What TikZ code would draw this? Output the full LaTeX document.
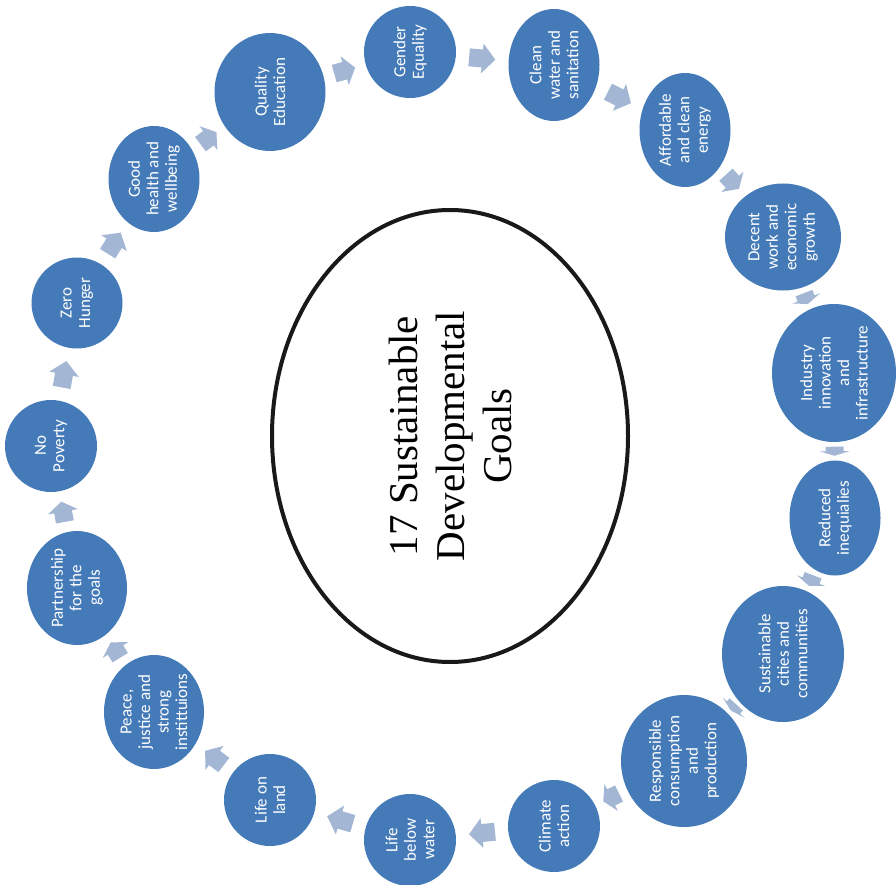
\documentclass[tikz,border=0pt]{standalone}
\usepackage{fontspec}
\setmainfont{Liberation Serif}
\newfontfamily\goalfont{Carlito}
\usetikzlibrary{shapes.geometric,decorations.markings}
\definecolor{goalblue}{RGB}{69,122,185}
\definecolor{flowblue}{RGB}{163,183,212}
\tikzset{
    goal/.style={ellipse, fill=goalblue, text=white, inner sep=0pt, align=center,
        rotate=90, font=\goalfont\fontsize{17}{18.5}\selectfont},
    hub/.style={ellipse, draw=black!90, line width=4pt, inner sep=0pt, align=center,
        rotate=90, font=\fontsize{41}{47}\selectfont},
    flow/.style={decoration={markings, mark=at position 0.5 with {
        \fill[flowblue] ({-0.25*\pgfdecoratedpathlength},-9pt) -- (0pt,-9pt) -- (0pt,-15pt)
            -- ({0.25*\pgfdecoratedpathlength},0pt) -- (0pt,15pt) -- (0pt,9pt)
            -- ({-0.25*\pgfdecoratedpathlength},9pt) -- cycle;}}, decorate}
}
\begin{document}
\begin{tikzpicture}[x=1pt,y=-1pt]
    \useasboundingbox (0,0) rectangle (896,885);
    % centre
    \node[hub, minimum width=452pt, minimum height=356pt] (hub) at (450,436)
        {17 Sustainable\\Developmental\\Goals};
    % the ring of goals
    \node[goal, minimum width=92pt, minimum height=92pt] (g1) at (51,446) {No\\Poverty};
    \node[goal, minimum width=91pt, minimum height=91pt] (g2) at (77,303) {Zero\\Hunger};
    \node[goal, minimum width=106pt, minimum height=91pt] (g3) at (154,179) {Good\\health and\\wellbeing};
    \node[goal, minimum width=118pt, minimum height=111pt] (g4) at (270,92) {Quality\\Education};
    \node[goal, minimum width=92pt, minimum height=92pt] (g5) at (410,52) {Gender\\Equality};
    \node[goal, minimum width=112pt, minimum height=91pt] (g6) at (554,65) {Clean\\water and\\sanitation};
    \node[goal, minimum width=114pt, minimum height=91pt] (g7) at (685,130) {Affordable\\and clean\\energy};
    \node[goal, minimum width=107pt, minimum height=116pt] (g8) at (783,237) {Decent\\work and\\economic\\growth};
    \node[goal, minimum width=138pt, minimum height=124pt] (g9) at (834,373) {Industry\\innovation\\and\\infrastructure};
    \node[goal, minimum width=115pt, minimum height=91pt] (g10) at (835,518) {Reduced\\inequialies};
    \node[goal, minimum width=136pt, minimum height=122pt] (g11) at (783,654) {Sustainable\\cities and\\communities};
    \node[goal, minimum width=132pt, minimum height=126pt] (g12) at (684,761) {Responsible\\consumption\\and\\production};
    \node[goal, minimum width=92pt, minimum height=92pt] (g13) at (554,826) {Climate\\action};
    \node[goal, minimum width=92pt, minimum height=92pt] (g14) at (410,840) {Life\\below\\water};
    \node[goal, minimum width=92pt, minimum height=92pt] (g15) at (270,800) {Life on\\land};
    \node[goal, minimum width=114pt, minimum height=100pt] (g16) at (154,712) {Peace,\\justice and\\strong\\instittuions};
    \node[goal, minimum width=114pt, minimum height=100pt] (g17) at (77,588) {Partnership\\for the\\goals};
    % arrows round the ring
    \foreach \a/\b in {1/2,2/3,3/4,4/5,5/6,6/7,7/8,8/9,9/10,10/11,11/12,12/13,13/14,14/15,15/16,16/17,17/1}
        \path[flow] (g\a) -- (g\b);
\end{tikzpicture}
\end{document}
